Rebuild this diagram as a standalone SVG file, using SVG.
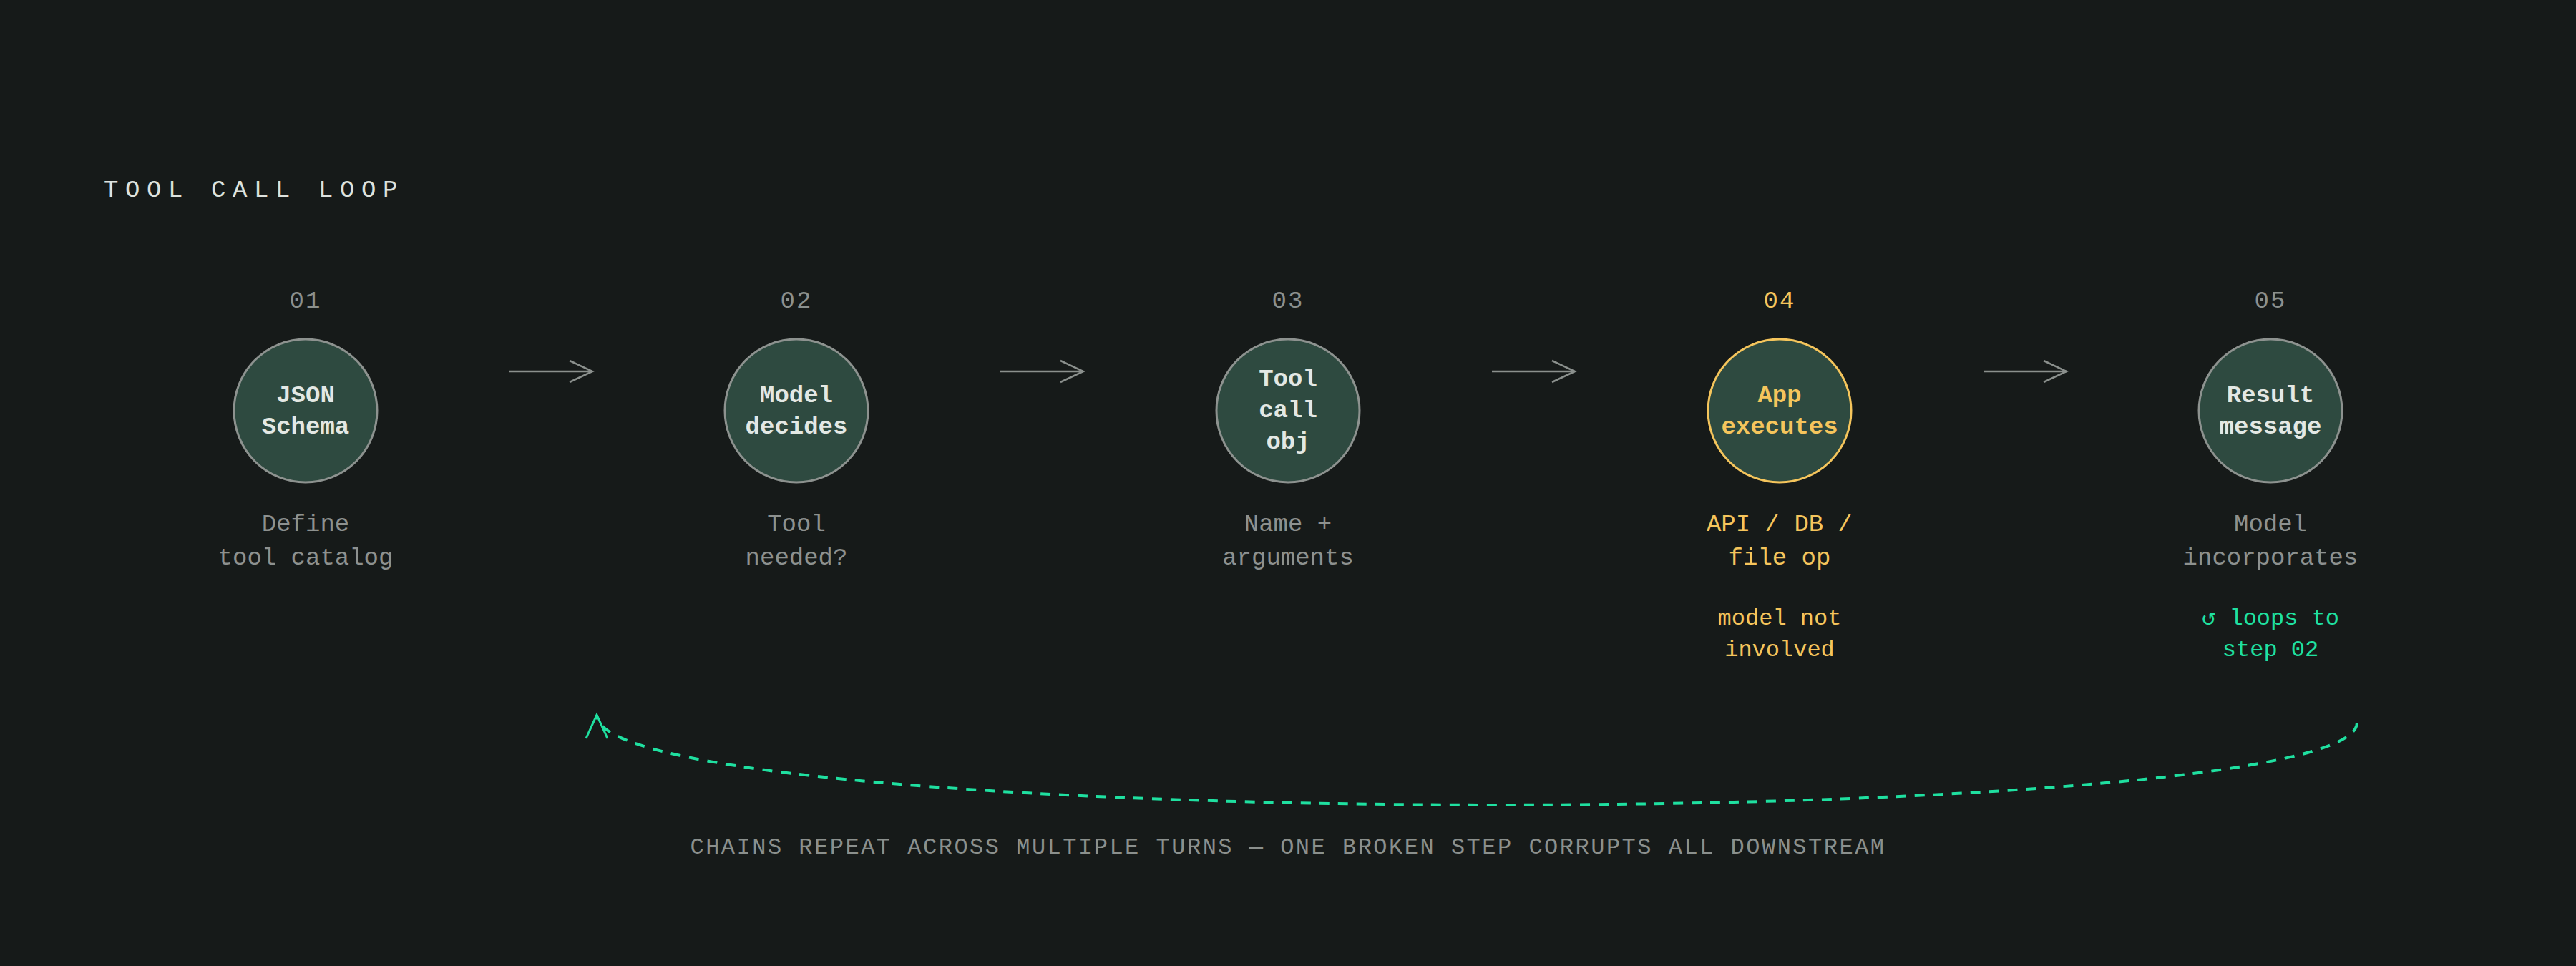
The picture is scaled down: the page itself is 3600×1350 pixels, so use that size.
<svg xmlns="http://www.w3.org/2000/svg" width="3600" height="1350" viewBox="0 0 3600 1350">
<style>
text { font-family: "Liberation Mono", "DejaVu Sans Mono", monospace; }
.title { font-size: 34px; fill: #dde2de; letter-spacing: 9.6px; }
.num { font-size: 34px; fill: #8b908d; text-anchor: middle; letter-spacing: 2px; }
.lbl { font-size: 34px; font-weight: bold; fill: #e3e8e4; text-anchor: middle; }
.desc { font-size: 34px; fill: #8d918f; text-anchor: middle; }
.note { font-size: 32px; text-anchor: middle; }
.node { fill: #2e4a40; stroke: #8d928f; stroke-width: 3; }
.hot .node { stroke: #f5c55c; }
.hot text { fill: #f5c55c; }
.loop { fill: #1fe0a0; }
.flow { stroke: #8b908d; stroke-width: 2.5; fill: none; }
.back { stroke: #1fe0a0; stroke-width: 4; fill: none; stroke-dasharray: 14 12; }
.foot { font-size: 32px; fill: #8b908d; text-anchor: middle; letter-spacing: 2.5px; }
</style>
<defs>
<marker id="ah" markerUnits="userSpaceOnUse" markerWidth="44" markerHeight="40" viewBox="-38 -20 44 40" refX="0" refY="0" orient="auto" overflow="visible">
<path d="M-32,-15 L0,0 L-32,15" fill="none" stroke="#8b908d" stroke-width="2.5"/>
</marker>
<marker id="ahg" markerUnits="userSpaceOnUse" markerWidth="44" markerHeight="40" viewBox="-38 -20 44 40" refX="0" refY="0" orient="auto" overflow="visible">
<path d="M-33,-15 L0,0 L-33,15" fill="none" stroke="#1fe0a0" stroke-width="3"/>
</marker>
</defs>
<rect width="3600" height="1350" fill="#161a19"/>
<text class="title" x="145" y="275">TOOL CALL LOOP</text>

<g id="connectors">
<path class="flow" d="M712,519 H828" marker-end="url(#ah)"/>
<path class="flow" d="M1398,519 H1514" marker-end="url(#ah)"/>
<path class="flow" d="M2085,519 H2201" marker-end="url(#ah)"/>
<path class="flow" d="M2772,519 H2888" marker-end="url(#ah)"/>
<path class="back" d="M3294,1010 C3294,1165 834,1165 834,999" marker-end="url(#ahg)"/>
</g>

<g id="step01">
<text class="num" x="427" y="430">01</text>
<circle class="node" cx="427" cy="574" r="100"/>
<text class="lbl" x="427" y="562">JSON</text>
<text class="lbl" x="427" y="606">Schema</text>
<text class="desc" x="427" y="742">Define</text>
<text class="desc" x="427" y="789">tool catalog</text>
</g>

<g id="step02">
<text class="num" x="1113" y="430">02</text>
<circle class="node" cx="1113" cy="574" r="100"/>
<text class="lbl" x="1113" y="562">Model</text>
<text class="lbl" x="1113" y="606">decides</text>
<text class="desc" x="1113" y="742">Tool</text>
<text class="desc" x="1113" y="789">needed?</text>
</g>

<g id="step03">
<text class="num" x="1800" y="430">03</text>
<circle class="node" cx="1800" cy="574" r="100"/>
<text class="lbl" x="1800" y="539">Tool</text>
<text class="lbl" x="1800" y="583">call</text>
<text class="lbl" x="1800" y="627">obj</text>
<text class="desc" x="1800" y="742">Name +</text>
<text class="desc" x="1800" y="789">arguments</text>
</g>

<g id="step04" class="hot">
<text class="num" x="2487" y="430">04</text>
<circle class="node" cx="2487" cy="574" r="100"/>
<text class="lbl" x="2487" y="562">App</text>
<text class="lbl" x="2487" y="606">executes</text>
<text class="desc" x="2487" y="742">API / DB /</text>
<text class="desc" x="2487" y="789">file op</text>
<text class="note" x="2487" y="873">model not</text>
<text class="note" x="2487" y="917">involved</text>
</g>

<g id="step05">
<text class="num" x="3173" y="430">05</text>
<circle class="node" cx="3173" cy="574" r="100"/>
<text class="lbl" x="3173" y="562">Result</text>
<text class="lbl" x="3173" y="606">message</text>
<text class="desc" x="3173" y="742">Model</text>
<text class="desc" x="3173" y="789">incorporates</text>
<text class="note loop" x="3173" y="873">↺ loops to</text>
<text class="note loop" x="3173" y="917">step 02</text>
</g>

<text class="foot" x="1800" y="1193">CHAINS REPEAT ACROSS MULTIPLE TURNS — ONE BROKEN STEP CORRUPTS ALL DOWNSTREAM</text>
</svg>
